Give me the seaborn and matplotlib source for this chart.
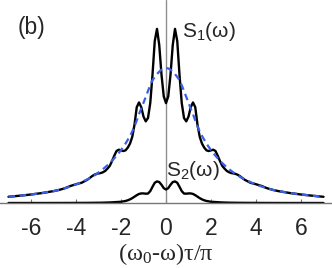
import seaborn as sns
import matplotlib.pyplot as plt

# sample positions on (w0-w)tau/pi
x_vals = [-7.0, -6.5, -6.0, -5.5, -5.0, -4.75, -4.5, -4.25, -4.0, -3.75, -3.5,
          -3.4, -3.3, -3.2, -3.1, -3.0, -2.9, -2.8, -2.7, -2.6, -2.5, -2.4, -2.3,
          -2.2, -2.1, -2.0, -1.9, -1.8, -1.7, -1.6, -1.5, -1.4, -1.3, -1.2, -1.1,
          -1.0, -0.9, -0.8, -0.7, -0.6, -0.5, -0.4, -0.3, -0.2, -0.1,
          0.0,
          0.1, 0.2, 0.3, 0.4, 0.5, 0.6, 0.7, 0.8, 0.9, 1.0, 1.1, 1.2, 1.3, 1.4,
          1.5, 1.6, 1.7, 1.8, 1.9, 2.0, 2.1, 2.2, 2.3, 2.4, 2.5, 2.6, 2.7, 2.8,
          2.9, 3.0, 3.1, 3.2, 3.3, 3.4, 3.5, 3.75, 4.0, 4.25, 4.5, 4.75, 5.0,
          5.5, 6.0, 6.5, 7.0]

s1_vals = [0.046, 0.054, 0.063, 0.074, 0.088, 0.097, 0.109, 0.126, 0.139, 0.150, 0.172,
           0.184, 0.197, 0.208, 0.215, 0.219, 0.222, 0.228, 0.238, 0.255, 0.275, 0.31, 0.35,
           0.385, 0.395, 0.39, 0.385, 0.39, 0.41, 0.44, 0.49, 0.58, 0.71, 0.745, 0.71,
           0.64, 0.605, 0.63, 0.74, 0.95, 1.20, 1.29, 1.17, 0.95, 0.79,
           0.74,
           0.79, 0.95, 1.17, 1.29, 1.20, 0.95, 0.74, 0.63, 0.605, 0.64, 0.71, 0.745, 0.71, 0.58,
           0.49, 0.44, 0.41, 0.39, 0.385, 0.39, 0.395, 0.385, 0.35, 0.31, 0.275, 0.255, 0.238, 0.228,
           0.222, 0.219, 0.215, 0.208, 0.197, 0.184, 0.172, 0.150, 0.139, 0.126, 0.109, 0.097, 0.088,
           0.074, 0.063, 0.054, 0.046]

s2_vals = [0.0, 0.0, 0.0, 0.0, 0.0001, 0.0002, 0.0003, 0.0004, 0.0006, 0.0008, 0.001,
           0.0012, 0.0013, 0.0015, 0.0018, 0.002, 0.002, 0.0025, 0.003, 0.0035, 0.004, 0.005, 0.006,
           0.007, 0.008, 0.009, 0.012, 0.015, 0.02, 0.027, 0.036, 0.047, 0.058, 0.067, 0.071,
           0.071, 0.069, 0.07, 0.088, 0.12, 0.15, 0.16, 0.155, 0.135, 0.11,
           0.10,
           0.11, 0.135, 0.155, 0.16, 0.15, 0.12, 0.088, 0.07, 0.069, 0.071, 0.071, 0.067, 0.058, 0.047,
           0.036, 0.027, 0.02, 0.015, 0.012, 0.009, 0.008, 0.007, 0.006, 0.005, 0.004, 0.0035, 0.003, 0.0025,
           0.002, 0.002, 0.0018, 0.0015, 0.0013, 0.0012, 0.001, 0.0008, 0.0006, 0.0004, 0.0003, 0.0002, 0.0001,
           0.0, 0.0, 0.0, 0.0]

# smooth envelope (blue dashed)
env_vals = [0.046, 0.054, 0.063, 0.074, 0.088, 0.097, 0.109, 0.122, 0.137, 0.155, 0.175,
            0.184, 0.193, 0.203, 0.213, 0.226, 0.238, 0.251, 0.265, 0.280, 0.296, 0.313, 0.331,
            0.350, 0.370, 0.392, 0.415, 0.440, 0.468, 0.497, 0.530, 0.568, 0.612, 0.658, 0.700,
            0.742, 0.786, 0.830, 0.872, 0.910, 0.934, 0.955, 0.973, 0.988, 0.997,
            1.0,
            0.997, 0.988, 0.973, 0.955, 0.934, 0.910, 0.872, 0.830, 0.786, 0.742, 0.700, 0.658, 0.612, 0.568,
            0.530, 0.497, 0.468, 0.440, 0.415, 0.392, 0.370, 0.350, 0.331, 0.313, 0.296, 0.280, 0.265, 0.251,
            0.238, 0.226, 0.213, 0.203, 0.193, 0.184, 0.175, 0.155, 0.137, 0.122, 0.109, 0.097, 0.088,
            0.074, 0.063, 0.054, 0.046]

tick_vals = [-6, -4, -2, 0, 2, 4, 6]

sns.set_theme(style="white")
plt.rcParams["font.family"] = ["Liberation Sans", "DejaVu Sans"]
plt.rcParams["axes.unicode_minus"] = False
plt.rcParams["mathtext.fontset"] = "custom"
plt.rcParams["mathtext.rm"] = "Liberation Serif"
plt.rcParams["mathtext.it"] = "Liberation Serif:italic"
plt.rcParams["mathtext.sf"] = "Liberation Sans"

fig = plt.figure(figsize=(3.32, 2.68), dpi=100)
ax = fig.add_axes([0, 65 / 268, 1, 203 / 268])

ax.axvline(0, color="#8f8f8f", lw=1.0, zorder=1)

sns.lineplot(x=x_vals, y=s1_vals, color="black", lw=1.7, ax=ax, zorder=2)
sns.lineplot(x=x_vals, y=s2_vals, color="black", lw=1.7, ax=ax, zorder=2)
sns.lineplot(x=x_vals, y=env_vals, color="#3a5fe6", lw=1.6, linestyle=(0, (3, 2)),
             ax=ax, zorder=3)

ax.set_xlim(-7.378, 7.378)
ax.set_ylim(0, 1.504)
ax.set_yticks([])
ax.set_xticks(tick_vals)
ax.set_xticklabels([str(t) for t in tick_vals])
ax.tick_params(axis="x", bottom=True, direction="in", length=3, width=0.8,
               color="#777777", pad=10, labelsize=16.5)
for side in ["top", "left", "right"]:
    ax.spines[side].set_visible(False)
ax.spines["bottom"].set_color("#777777")
ax.spines["bottom"].set_linewidth(1.0)

ax.set_xlabel(r"$\mathrm{(\omega_0}$-$\mathrm{\omega)\tau/\pi}$", fontsize=17.5,
              family="Liberation Serif", labelpad=1)
ax.set_ylabel("")

ax.text(-6.0, 1.30, "(b)", fontsize=16.5, ha="center", va="center")
ax.text(1.91, 1.27, r"$\mathsf{S_1(\omega)}$", fontsize=15, ha="center", va="center")
ax.text(1.2, 0.244, r"$\mathsf{S_2(\omega)}$", fontsize=15, ha="center", va="center")

fig.savefig("out.png", dpi=100)
